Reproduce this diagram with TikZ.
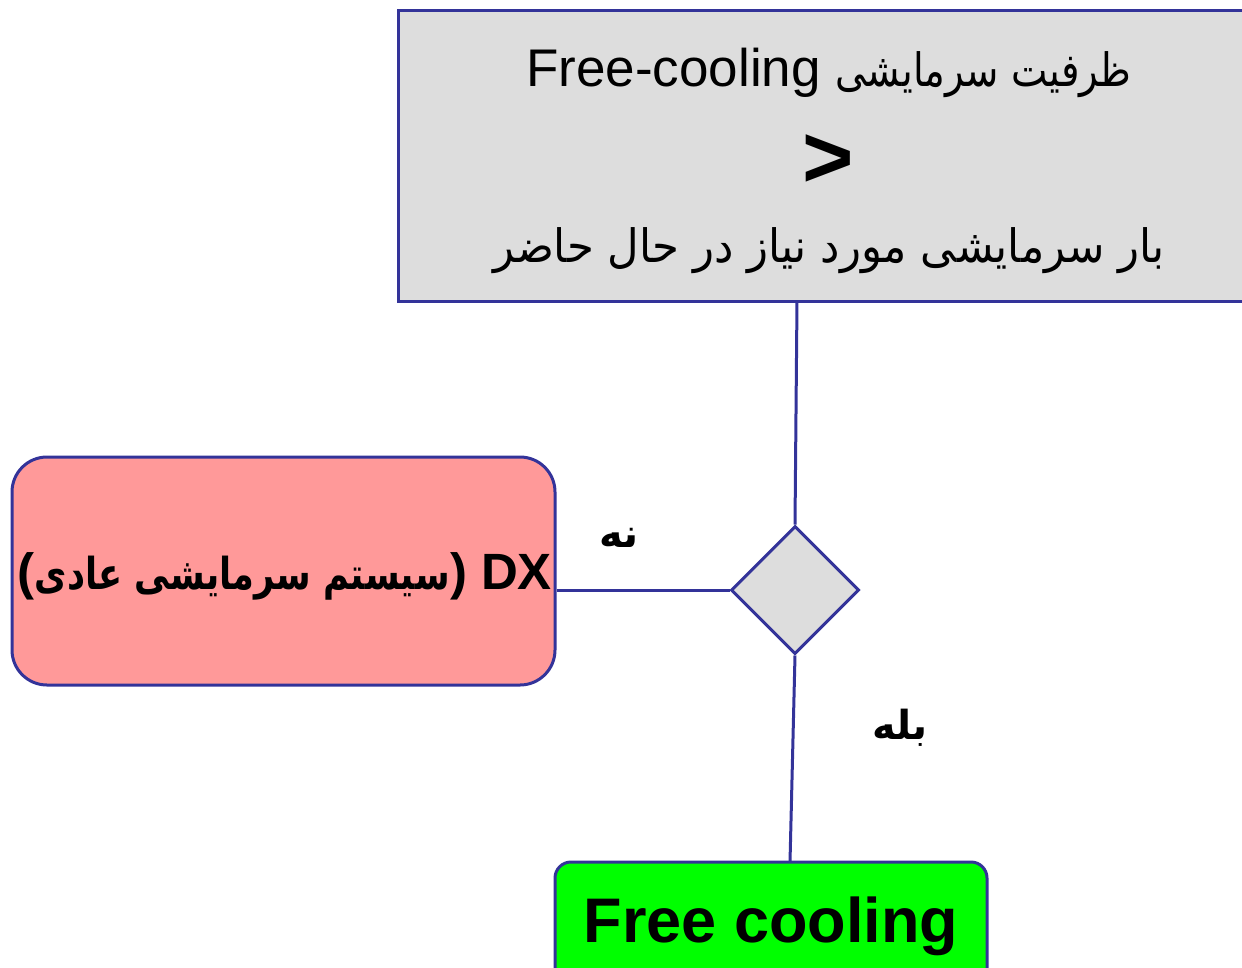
\documentclass[tikz,border=0pt]{standalone}
\usepackage{fontspec}
\setmainfont{Liberation Sans}
\newfontfamily\arabicfont[Script=Arabic]{DejaVu Sans}
\TeXXeTstate=1
\usetikzlibrary{shapes.geometric}
\definecolor{edgeblue}{HTML}{333399}
\definecolor{boxgray}{HTML}{DDDDDD}
\definecolor{boxred}{HTML}{FF9999}
\definecolor{boxgreen}{HTML}{00FF00}
\tikzset{
  edge/.style={draw=edgeblue, line width=3pt},
  plainbox/.style={edge, rectangle, inner sep=0pt},
  roundbox/.style={edge, rectangle, inner sep=0pt},
  txt/.style={inner sep=0pt, text=black},
}
\begin{document}
\begin{tikzpicture}[x=1pt, y=-1pt]
\useasboundingbox (0,0) rectangle (1242,967);
\clip (0,0) rectangle (1242,967);
% top box
\node[plainbox, fill=boxgray, minimum width=864pt, minimum height=291pt] (top) at (830,155.5) {};
\node[txt, anchor=base] (l1) at (829,86) {\fontsize{53}{62}\selectfont Free-cooling \scalebox{0.84}[1]{\arabicfont\fontsize{46}{56}\selectfont\beginR ظرفیت سرمایشی\endR}};
\node[txt] (gt) at (828,161) {\fontsize{88}{96}\selectfont\bfseries >};
\node[txt, anchor=base] (l3) at (829,262) {\scalebox{0.945}[1]{\arabicfont\fontsize{46}{56}\selectfont\beginR بار سرمایشی مورد نیاز در حال حاضر\endR}};
% diamond
\node[edge, diamond, fill=boxgray, minimum width=128pt, minimum height=128pt, inner sep=0pt] (dia) at (795,590) {};
% DX box
\node[roundbox, fill=boxred, rounded corners=35pt, minimum width=543pt, minimum height=228pt] (dx) at (283.5,571) {};
\node[txt] (dxt) at (285,576) {\fontsize{51}{60}\selectfont\bfseries (\scalebox{0.8}[1]{\arabicfont\fontsize{44}{52}\selectfont\beginR سیستم سرمایشی عادی\endR}) DX};
% Free cooling box
\node[roundbox, fill=boxgreen, rounded corners=16pt, minimum width=432pt, minimum height=160pt] (fc) at (771,942) {};
\node[txt, anchor=base] (fct) at (771,942) {\fontsize{63}{70}\selectfont\bfseries Free cooling};
% labels
\node[txt] (no) at (619,538) {\arabicfont\bfseries\fontsize{40}{48}\selectfont\beginR نه\endR};
\node[txt] (yes) at (900,728) {\arabicfont\bfseries\fontsize{40}{48}\selectfont\beginR بله\endR};
% connectors
\coordinate (t1) at (797,301);
\coordinate (f1) at (790,862);
\draw[edge] (t1) -- (dia.north);
\draw[edge] (dia.west) -- (dia.west -| dx.east);
\draw[edge] (dia.south) -- (f1);
\end{tikzpicture}
\end{document}
